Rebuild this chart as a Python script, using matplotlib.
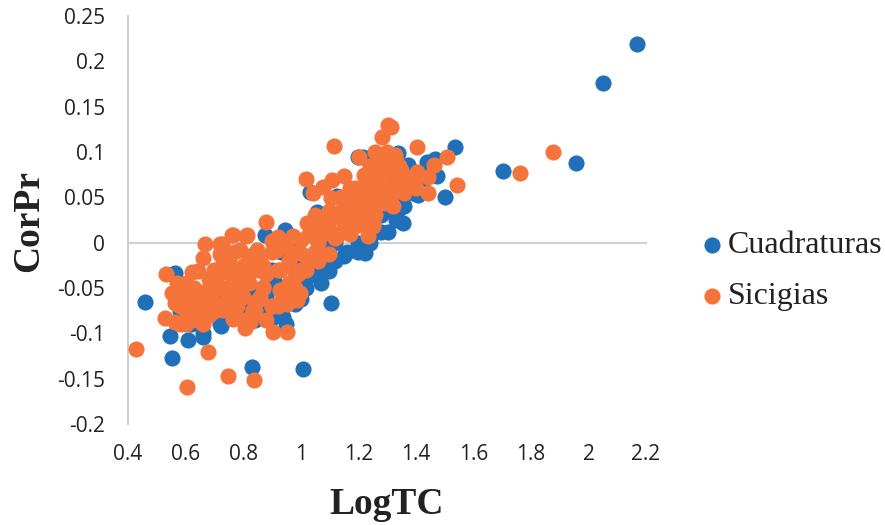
import matplotlib
matplotlib.use("Agg")
import matplotlib.pyplot as plt

cuad_x = [2.169,2.05,1.957,1.703,1.536,1.50,0.459,0.553,1.008,0.83,1.105,
 0.876,0.945,0.95,0.72,0.66,0.563,0.546,0.608,0.66,0.723,0.765,0.675,
 1.355,1.303,1.28,1.223,1.338,1.439,1.467,1.474,1.408,1.338,1.373,1.032,1.057,1.126,1.2,1.217,
 0.58,0.62,0.6,0.64,0.7,0.75,0.78,0.8,0.82,0.85,0.87,0.9,0.92,0.94,0.96,0.98,1.0,1.02,1.04,1.06,
 1.08,1.1,1.12,1.15,1.18,1.2,1.22,1.24,1.26,1.28,1.3,1.32,1.34,1.36,1.38,1.42,1.45,
 0.86,0.9,0.93,0.97,1.0,1.05,1.09,1.1,1.07,1.13,1.16,1.19,1.24,1.27,1.3,1.33,0.82,0.88,0.91,0.99,
 1.12,1.16,1.2,1.24,0.7,0.74,0.78,0.84,0.88,0.94,0.98,1.02,1.05,1.35,1.39,1.43,1.33,1.29]
cuad_y = [0.2195,0.176,0.088,0.079,0.105,0.05,-0.065,-0.127,-0.139,-0.137,-0.067,
 0.009,0.014,-0.09,-0.09,-0.104,-0.033,-0.103,-0.107,-0.1,-0.092,-0.068,-0.065,
 0.022,0.012,0.012,-0.011,0.099,0.089,0.092,0.073,0.053,0.036,0.086,0.056,0.034,0.051,0.094,0.094,
 -0.075,-0.09,-0.06,-0.07,-0.06,-0.075,-0.055,-0.07,-0.082,-0.078,-0.08,-0.083,-0.05,-0.082,-0.065,-0.068,-0.062,-0.04,-0.02,-0.03,
 -0.025,-0.031,0.0,-0.015,0.02,0.0,-0.005,0.005,0.012,0.03,0.045,0.05,0.07,0.04,0.06,0.065,0.085,
 -0.03,-0.03,-0.01,0.0,-0.02,0.01,0.02,-0.005,-0.045,0.03,0.03,0.04,0.06,0.08,0.07,0.035,-0.05,-0.06,-0.045,-0.035,
 -0.02,-0.01,-0.01,0.0,-0.075,-0.08,-0.08,-0.085,-0.075,-0.07,-0.06,-0.05,-0.035,0.045,0.055,0.07,0.025,0.035]

sic_x = [0.428,0.605,0.747,0.838,0.678,1.877,1.762,1.543,1.508,1.404,1.116,
 0.532,0.668,0.66,0.622,0.643,0.57,0.553,0.563,0.528,0.563,0.615,0.66,0.73,0.765,0.807,0.824,0.904,0.952,
 1.303,1.315,1.283,1.203,1.258,1.328,1.463,1.018,1.043,1.078,1.109,1.15,1.105,1.404,1.442,1.442,1.293,1.234,1.251,1.182,1.154,
 0.57,0.59,0.6,0.61,0.63,0.65,0.66,0.68,0.7,0.72,0.72,0.73,0.75,0.76,0.77,0.78,0.8,0.8,0.82,0.82,0.84,0.84,0.86,0.87,0.88,0.9,0.9,0.92,0.94,0.96,0.98,
 0.72,0.76,0.81,0.85,0.9,0.95,1.0,1.02,1.05,1.07,1.1,1.12,1.15,1.18,1.2,1.22,1.25,1.27,1.3,1.33,1.36,1.38,
 1.0,1.03,1.06,1.09,1.12,1.16,1.2,1.24,1.28,1.32,1.35,1.25,1.22,1.19,1.29,1.31,
 0.68,0.74,0.78,0.83,0.86,0.93,0.97,0.99,1.02,1.06,1.1,0.8,0.88,0.92,0.96,0.77,0.84,0.7,0.64,0.6,0.58,0.62,
 1.1,1.14,1.17,1.21,1.26,1.3,1.34,1.39,
 0.727,0.765,0.813,0.88,0.921,0.973,1.022,1.05,1.109,1.126,1.085,0.998,0.98,0.928,0.869,0.8,0.765,0.744,0.695,
 0.834,0.852,0.9,0.952,0.987,0.998,0.918,0.848,0.79,0.73,0.72,0.79,0.869,0.928,1.043,1.057,0.973,
 0.6,0.63,0.66,0.6,0.64,0.68,0.62,0.58,0.66,0.7,0.73,0.7,0.68,
 1.2,1.23,1.26,1.28,1.31,1.34,1.37,1.4,1.3,1.27,1.33,1.35,1.22,1.24,1.18,1.15,1.14,1.17,1.2,1.23,1.26,1.28,1.32,1.36,1.4,1.17,1.2,1.25]
sic_y = [-0.117,-0.159,-0.147,-0.151,-0.121,0.100,0.077,0.064,0.094,0.106,0.107,
 -0.035,-0.002,-0.017,-0.032,-0.031,-0.044,-0.055,-0.066,-0.083,-0.088,-0.07,-0.09,-0.074,-0.084,-0.094,-0.087,-0.099,-0.099,
 0.13,0.128,0.116,0.094,0.1,0.097,0.086,0.07,0.055,0.061,0.069,0.073,0.049,0.078,0.072,0.055,0.044,0.007,0.018,0.018,0.036,
 -0.06,-0.05,-0.075,-0.062,-0.05,-0.08,-0.055,-0.05,-0.045,-0.03,-0.012,-0.05,-0.02,-0.035,-0.01,-0.05,-0.03,-0.06,-0.015,-0.045,-0.03,-0.065,-0.02,-0.05,-0.035,-0.01,-0.07,-0.03,-0.055,-0.02,-0.05,
 -0.002,0.008,0.007,-0.01,0.002,-0.005,0.003,-0.015,-0.01,0.02,0.025,0.01,0.015,0.03,0.05,0.06,0.07,0.08,0.09,0.075,0.06,0.065,
 -0.03,0.01,0.0,0.02,0.005,0.04,0.025,0.05,0.06,0.055,0.07,0.045,0.035,0.06,0.075,0.085,
 -0.08,-0.065,-0.07,-0.08,-0.06,-0.065,-0.06,-0.035,-0.03,-0.02,-0.012,-0.085,-0.085,-0.07,-0.045,-0.055,-0.075,-0.075,-0.075,-0.085,-0.09,-0.06,
 0.035,0.05,0.06,0.04,0.03,0.06,0.085,0.07,
 -0.002,0.009,0.009,0.023,0.006,0.007,0.022,0.031,0.028,0.007,0.011,-0.011,-0.033,-0.03,-0.026,-0.026,-0.041,-0.055,-0.052,
 -0.074,-0.063,-0.07,-0.068,-0.063,-0.055,-0.008,-0.008,-0.008,-0.019,-0.033,-0.044,-0.049,-0.052,0.007,-0.011,-0.011,
 -0.045,-0.06,-0.07,-0.09,-0.085,-0.065,-0.075,-0.07,-0.08,-0.065,-0.05,-0.03,-0.04,
 0.055,0.065,0.06,0.08,0.08,0.065,0.07,0.06,0.1,0.095,0.09,0.08,0.075,0.085,0.05,0.02,0.035,0.01,0.02,0.03,0.04,0.055,0.04,0.055,0.075,0.045,0.035,0.025]

series_names = ["Cuadraturas", "Sicigias"]
x_ticks = [0.4,0.6,0.8,1,1.2,1.4,1.6,1.8,2,2.2]
x_labels = ["0.4","0.6","0.8","1","1.2","1.4","1.6","1.8","2","2.2"]
y_ticks = [-0.2,-0.15,-0.1,-0.05,0,0.05,0.1,0.15,0.2,0.25]
y_labels = ["-0.2","-0.15","-0.1","-0.05","0","0.05","0.1","0.15","0.2","0.25"]

W, H = 885, 525
fig = plt.figure(figsize=(W/100, H/100), dpi=100)
ax = fig.add_axes([128/W, 1-424/H, (646-128)/W, (424-16)/H])
ax.scatter(cuad_x, cuad_y, s=135, color="#1F70B9", linewidths=0, clip_on=False, zorder=3, label=series_names[0])
ax.scatter(sic_x, sic_y, s=135, color="#F4743B", linewidths=0, clip_on=False, zorder=4, label=series_names[1])
ax.set_xlim(0.4, 2.2)
ax.set_ylim(-0.2, 0.25)
for s in ("top", "right"):
    ax.spines[s].set_visible(False)
ax.spines["bottom"].set_position(("data", 0))
for s in ("bottom", "left"):
    ax.spines[s].set_color("#D0D0D0")
    ax.spines[s].set_linewidth(1.5)
ax.set_xticks(x_ticks)
ax.set_xticklabels(x_labels, family="Open Sans", fontsize=15, color="#222222")
ax.set_yticks(y_ticks)
ax.set_yticklabels(y_labels, family="Open Sans", fontsize=15, color="#222222")
ax.tick_params(length=0)
ax.tick_params(axis="y", pad=16.5)
for lbl in ax.get_xticklabels():
    lbl.set_transform(ax.get_xaxis_transform())
    lbl.set_verticalalignment("center")
    lbl.set_y(-31/408)
fig.text(387/W, 1-504/H, "LogTC", family="Liberation Serif", weight="bold", fontsize=27, ha="center", va="center", color="#222222")
fig.text(29/W, 1-221/H, "CorPr", family="Liberation Serif", weight="bold", fontsize=27, ha="center", va="center", rotation=90, color="#222222")
leg = ax.legend(loc="upper left", bbox_to_anchor=(696/W, 1-231/H), bbox_transform=fig.transFigure,
                frameon=False, prop={"family": "Liberation Serif", "size": 23}, handletextpad=0.0,
                handlelength=1.0, labelspacing=0.68, borderpad=0, borderaxespad=0, labelcolor="#222222")
fig.savefig("out.png", dpi=100)
